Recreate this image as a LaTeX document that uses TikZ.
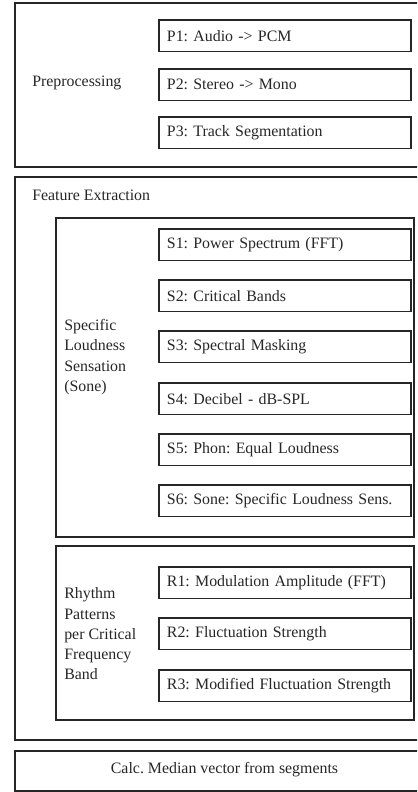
\documentclass[tikz,border=0pt]{standalone}
\usepackage{fontspec}
\setmainfont{Liberation Serif}
\usetikzlibrary{positioning}

\tikzset{
    stepbox/.style={
        draw,
        line width=1.3pt,
        anchor=north west,
        minimum width=6.2cm,
        minimum height=0.79cm,
        text width=5.9cm,
        inner xsep=0.2cm,
        align=left
    },
    groupbox/.style={draw, line width=1.3pt},
    grouplabel/.style={anchor=west, align=left, inner sep=0pt}
}

\begin{document}
\frenchspacing
\begin{tikzpicture}[
    x=0.025cm,
    y=-0.025cm,
    font=\fontsize{11.3}{14.4}\selectfont,
    color=black!85
]

\useasboundingbox (0,0) rectangle (417,792);
\clip (0,0) rectangle (417,792);

% outer stages
\draw[groupbox] (15,3) rectangle (433,167);
\draw[groupbox] (15,177) rectangle (433,740);
\draw[groupbox] (15,751) rectangle (433,791);

% inner groups of feature extraction
\draw[groupbox] (56,218) rectangle (414,537);
\draw[groupbox] (56,546) rectangle (414,720);

\node[grouplabel] (prelabel) at (32,83) {Preprocessing};
\node[grouplabel] (felabel) at (32,195) {Feature Extraction};
\node[grouplabel] (sonelabel) at (64,357) {Specific\\Loudness\\Sensation\\(Sone)};
\node[grouplabel] (rhythmlabel) at (64,634) {Rhythm\\Patterns\\per Critical\\Frequency\\Band};

\foreach \name/\top/\txt in {
    p1/19/{P1: Audio -> PCM},
    p2/68/{P2: Stereo -> Mono},
    p3/116/{P3: Track Segmentation},
    s1/228/{S1: Power Spectrum (FFT)},
    s2/279/{S2: Critical Bands},
    s3/330/{S3: Spectral Masking},
    s4/382/{S4: Decibel - dB-SPL},
    s5/433/{S5: Phon: Equal Loudness},
    s6/484/{S6: Sone: Specific Loudness Sens.},
    r1/566/{R1: Modulation Amplitude (FFT)},
    r2/617/{R2: Fluctuation Strength},
    r3/669/{R3: Modified Fluctuation Strength}}
    \node[stepbox] (\name) at (158,\top) {\txt};

\node (calc) at (224.5,770) {Calc. Median vector from segments};

\end{tikzpicture}
\end{document}
